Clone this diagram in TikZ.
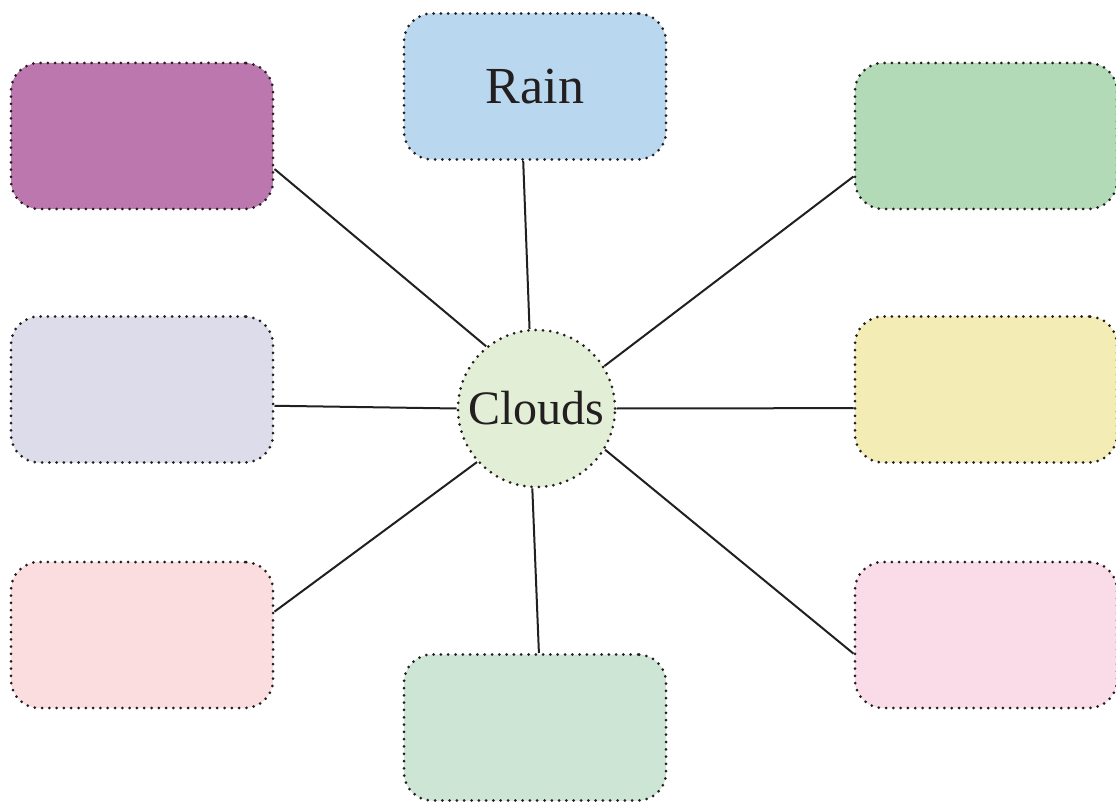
\documentclass[tikz,border=0pt]{standalone}
\usepackage{fontspec}
\setmainfont{Liberation Serif}
\definecolor{ink}{HTML}{231F20}
\definecolor{cRain}{HTML}{B9D7EE}
\definecolor{cPurple}{HTML}{BB77AE}
\definecolor{cGreenA}{HTML}{B3DAB6}
\definecolor{cLav}{HTML}{DCDCEA}
\definecolor{cYellow}{HTML}{F3EDB5}
\definecolor{cPinkA}{HTML}{FBDDE0}
\definecolor{cPinkB}{HTML}{FADCE8}
\definecolor{cGreenB}{HTML}{CCE5D5}
\definecolor{cCloud}{HTML}{E2EFD6}
\tikzset{
  dotborder/.style={draw=ink, line width=3pt, line cap=round, dash pattern=on 0pt off 7.3pt},
  box/.style={dotborder, rounded corners=28pt, minimum width=262pt, minimum height=146pt, inner sep=0pt, text=ink},
  hub/.style={dotborder, circle, minimum size=157pt, inner sep=0pt, text=ink},
  link/.style={draw=ink, line width=2pt},
}
\begin{document}
\begin{tikzpicture}[x=1pt,y=-1pt]
\useasboundingbox (0,0) rectangle (1116,802);
\node[box, fill=cRain] (rain) at (535,86.5) {\fontsize{52}{60}\selectfont Rain};
\node[box, fill=cPurple] (purple) at (142,136) {};
\node[box, fill=cGreenA] (greenA) at (986,136) {};
\node[box, fill=cLav] (lav) at (142,389.5) {};
\node[box, fill=cYellow] (yellow) at (986,389.5) {};
\node[box, fill=cPinkA] (pinkA) at (142,635) {};
\node[box, fill=cPinkB] (pinkB) at (986,635) {};
\node[box, fill=cGreenB] (greenB) at (535,727.5) {};
\node[hub, fill=cCloud] (clouds) at (536.5,408.5) {\fontsize{48}{56}\selectfont Clouds};
\draw[link] (clouds.95) -- (rain.261.5);
\draw[link] (clouds.129.6) -- (purple.-14.4);
\draw[link] (clouds.32.5) -- (greenA.197.9);
\draw[link] (clouds.180) -- (lav.-7.1);
\draw[link] (clouds.0) -- (yellow.188.1);
\draw[link] (clouds.222.5) -- (pinkA.10.7);
\draw[link] (clouds.267.9) -- (greenB.87.7);
\draw[link] (clouds.-31.2) -- (pinkB.188.7);
\end{tikzpicture}
\end{document}
